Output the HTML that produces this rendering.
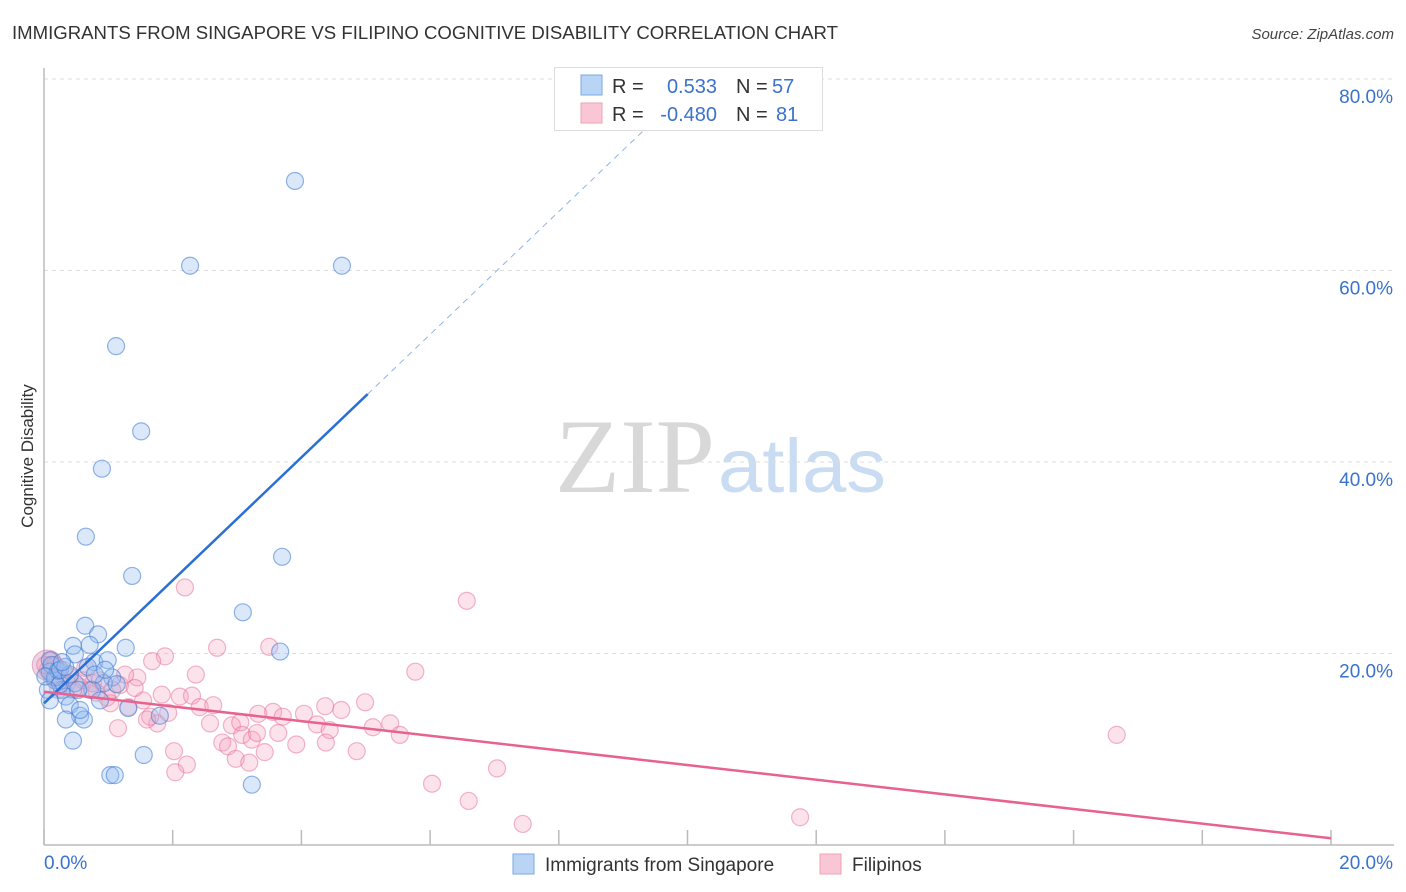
<!DOCTYPE html>
<html><head><meta charset="utf-8"><style>
body{margin:0;background:#fff;font-family:"Liberation Sans",sans-serif}
svg{display:block}
</style></head><body>
<svg id="chart" width="1406" height="892" xmlns="http://www.w3.org/2000/svg">
<text x="12" y="39" font-size="18" fill="#333" textLength="826" lengthAdjust="spacingAndGlyphs" font-family="Liberation Sans, sans-serif">IMMIGRANTS FROM SINGAPORE VS FILIPINO COGNITIVE DISABILITY CORRELATION CHART</text>
<text x="1394" y="39" font-size="15" fill="#444" text-anchor="end" font-style="italic">Source: ZipAtlas.com</text>
<text transform="translate(33,456) rotate(-90)" font-size="17" fill="#333" text-anchor="middle">Cognitive Disability</text>
<g>
<text x="635" y="492" font-size="106" fill="#d8d8d8" font-family="Liberation Serif, serif" text-anchor="middle" textLength="160" lengthAdjust="spacingAndGlyphs">ZIP</text>
<text x="802" y="492" font-size="76" fill="#c9dcf2" text-anchor="middle" textLength="168" lengthAdjust="spacingAndGlyphs">atlas</text>
</g>
<g id="grid"></g><g id="axes"></g><g id="pts"></g><g id="trend"></g>
<g>
<rect x="554.5" y="67.5" width="268" height="63" fill="#fff" stroke="#ddd"/>
<rect x="581" y="75" width="21" height="20" fill="#b9d4f5" stroke="#7aa8e6"/>
<rect x="581" y="103" width="21" height="20" fill="#f9c6d6" stroke="#eea0b8"/>
<text x="612" y="93" font-size="20" fill="#333">R =</text><text x="717" y="93" font-size="20" fill="#3a72cc" text-anchor="end">0.533</text>
<text x="736" y="93" font-size="20" fill="#333">N =</text><text x="772" y="93" font-size="20" fill="#3a72cc">57</text>
<text x="612" y="121" font-size="20" fill="#333">R =</text><text x="717" y="121" font-size="20" fill="#3a72cc" text-anchor="end">-0.480</text>
<text x="736" y="121" font-size="20" fill="#333">N =</text><text x="776" y="121" font-size="20" fill="#3a72cc">81</text>
</g>
<g>
<rect x="513" y="854" width="21" height="20" fill="#b9d4f5" stroke="#7aa8e6"/>
<text x="545" y="871" font-size="19" fill="#333">Immigrants from Singapore</text>
<rect x="820" y="854" width="21" height="20" fill="#f9c6d6" stroke="#eea0b8"/>
<text x="852" y="871" font-size="19" fill="#333">Filipinos</text>
</g>
</svg>
<script>
const xTicks=[0,2,4,6,8,10,12,14,16,18,20];
const yTicks=[20,40,60,80];
const blueX=[3.90,2.27,4.63,1.12,1.51,0.90,0.65,1.37,3.70,3.09,3.67,0.64,0.84,0.45,0.48,0.71,1.27,0.78,0.99,0.09,0.09,0.17,0.28,0.34,0.40,0.56,0.62,0.45,1.03,1.10,1.55,3.23,1.80,1.31,1.06,0.93,1.13,0.34,0.56,0.17,0.25,0.06,0.12,0.22,0.48,0.75,0.87,0.02,0.09,0.25,0.40,0.33,0.68,0.79,0.95,0.28,0.53];
const blueY=[69.35,60.5,60.5,52.1,43.2,39.3,32.2,28.1,30.1,24.3,20.2,22.9,22.0,20.8,19.9,20.9,20.6,19.1,19.3,19.3,18.1,17.2,16.2,15.5,14.6,13.5,13.1,10.9,7.3,7.3,9.4,6.3,13.5,14.3,17.5,16.9,16.8,13.1,14.1,17.5,16.8,16.2,18.8,18.2,16.9,16.2,15.1,17.6,15.1,18.3,17.8,18.6,18.6,17.8,18.3,19.1,16.2];
const pinkX=[2.19,2.69,3.50,6.57,5.77,2.36,1.88,1.68,1.83,2.11,2.30,2.42,2.63,2.58,2.92,3.05,2.77,2.86,3.08,3.23,3.31,3.33,3.56,3.71,3.64,3.43,2.98,3.19,2.02,2.22,2.04,3.92,4.04,4.24,4.37,4.44,4.38,4.62,4.99,4.86,5.11,5.38,5.53,6.03,6.60,7.04,1.76,1.65,16.67,7.44,11.75,1.45,1.54,1.15,1.93,1.60,1.31,0.98,0.82,0.56,0.36,0.14,0.12,0.30,0.61,0.45,0.76,1.03,0.87,0.06,0.17,0.25,0.40,0.64,0.71,1.18,1.41,0.02,0.22,1.06,1.26];
const pinkY=[26.9,20.6,20.7,25.5,18.1,17.8,19.7,19.2,15.7,15.5,15.6,14.4,14.6,12.7,12.5,12.8,10.7,10.3,11.5,11.0,11.7,13.7,13.9,13.4,11.7,9.7,9.0,8.6,9.8,8.4,7.6,10.5,13.7,12.6,14.5,12.0,10.7,14.1,14.9,9.8,12.3,12.7,11.5,6.4,4.6,8.0,12.7,13.4,11.5,2.2,2.9,17.5,15.1,12.2,13.8,13.1,14.4,15.4,15.9,16.5,16.9,17.5,19.3,18.3,17.2,16.2,16.9,14.8,17.2,18.3,18.8,17.2,17.6,18.5,16.2,16.7,16.4,18.8,16.2,16.2,17.8];
const blueTrend=[14.8,6.42];   // intercept, slope
const blueSolidEnd=5.03, blueDashEnd=9.4;
const pinkTrend=[16.0,-0.765];
const pinkEnd=20;
const NS="http://www.w3.org/2000/svg";
const X0=44,X1=1331,Y0=845,PXY=9.575;
const sx=v=>X0+(X1-X0)*v/20, sy=v=>Y0-v*PXY;
function mk(parent,tag,attrs){const e=document.createElementNS(NS,tag);for(const k in attrs)e.setAttribute(k,attrs[k]);document.getElementById(parent).appendChild(e);return e;}
yTicks.forEach(t=>{
 const l=mk('grid','line',{x1:X0,x2:1394,y1:sy(t),y2:sy(t),stroke:'#ddd','stroke-dasharray':'4,4'});
 
 
 const tx=mk('grid','text',{x:1393,y:sy(t)+24,'font-size':19,fill:'#3a72cc','text-anchor':'end'});tx.textContent=t.toFixed(1)+'%';
 
 
});
const ax=mk('axes','line',{x1:X0,x2:1394,y1:Y0,y2:Y0,stroke:'#bbb','stroke-width':1.5});


const ay=mk('axes','line',{x1:X0,x2:X0,y1:68,y2:Y0,stroke:'#bbb','stroke-width':1.5});


xTicks.forEach(t=>{
 const l=mk('axes','line',{x1:sx(t),x2:sx(t),y1:830,y2:Y0,stroke:'#bbb','stroke-width':1.5});
 
 
});
[[0,'start',44],[20,'end',1393]].forEach(([t,a,x])=>{
 const tx=mk('axes','text',{x:x,y:869,'font-size':19,fill:'#3a72cc','text-anchor':a});tx.textContent=t.toFixed(1)+'%';
 
 
});
const big=mk('pts','circle',{cx:sx(0.05),cy:sy(18.8),r:15,fill:'rgba(200,110,160,0.3)',stroke:'rgba(200,110,160,0.5)'});


pinkX.forEach((v,i)=>{
 const c=mk('pts','circle',{cx:sx(v),cy:sy(pinkY[i]),r:8.5,fill:'rgba(245,160,190,0.3)',stroke:'rgba(230,110,150,0.5)','stroke-width':1.2});
 
 
});
blueX.forEach((v,i)=>{
 const c=mk('pts','circle',{cx:sx(v),cy:sy(blueY[i]),r:8.5,fill:'rgba(150,190,240,0.35)',stroke:'rgba(60,120,210,0.55)','stroke-width':1.2});
 
 
});
const bt=x=>blueTrend[0]+blueTrend[1]*x, pt=x=>pinkTrend[0]+pinkTrend[1]*x;
const l1=mk('trend','line',{x1:sx(0),y1:sy(bt(0)),x2:sx(blueSolidEnd),y2:sy(bt(blueSolidEnd)),stroke:'#2a6fd6','stroke-width':2.5});


const l2=mk('trend','line',{x1:sx(blueSolidEnd),y1:sy(bt(blueSolidEnd)),x2:sx(blueDashEnd),y2:sy(bt(blueDashEnd)),stroke:'#8fb4e6','stroke-width':1,'stroke-dasharray':'6,5'});


const l3=mk('trend','line',{x1:sx(0),y1:sy(pt(0)),x2:sx(pinkEnd),y2:sy(pt(pinkEnd)),stroke:'#e8628f','stroke-width':2.5});


</script>
</body></html>
